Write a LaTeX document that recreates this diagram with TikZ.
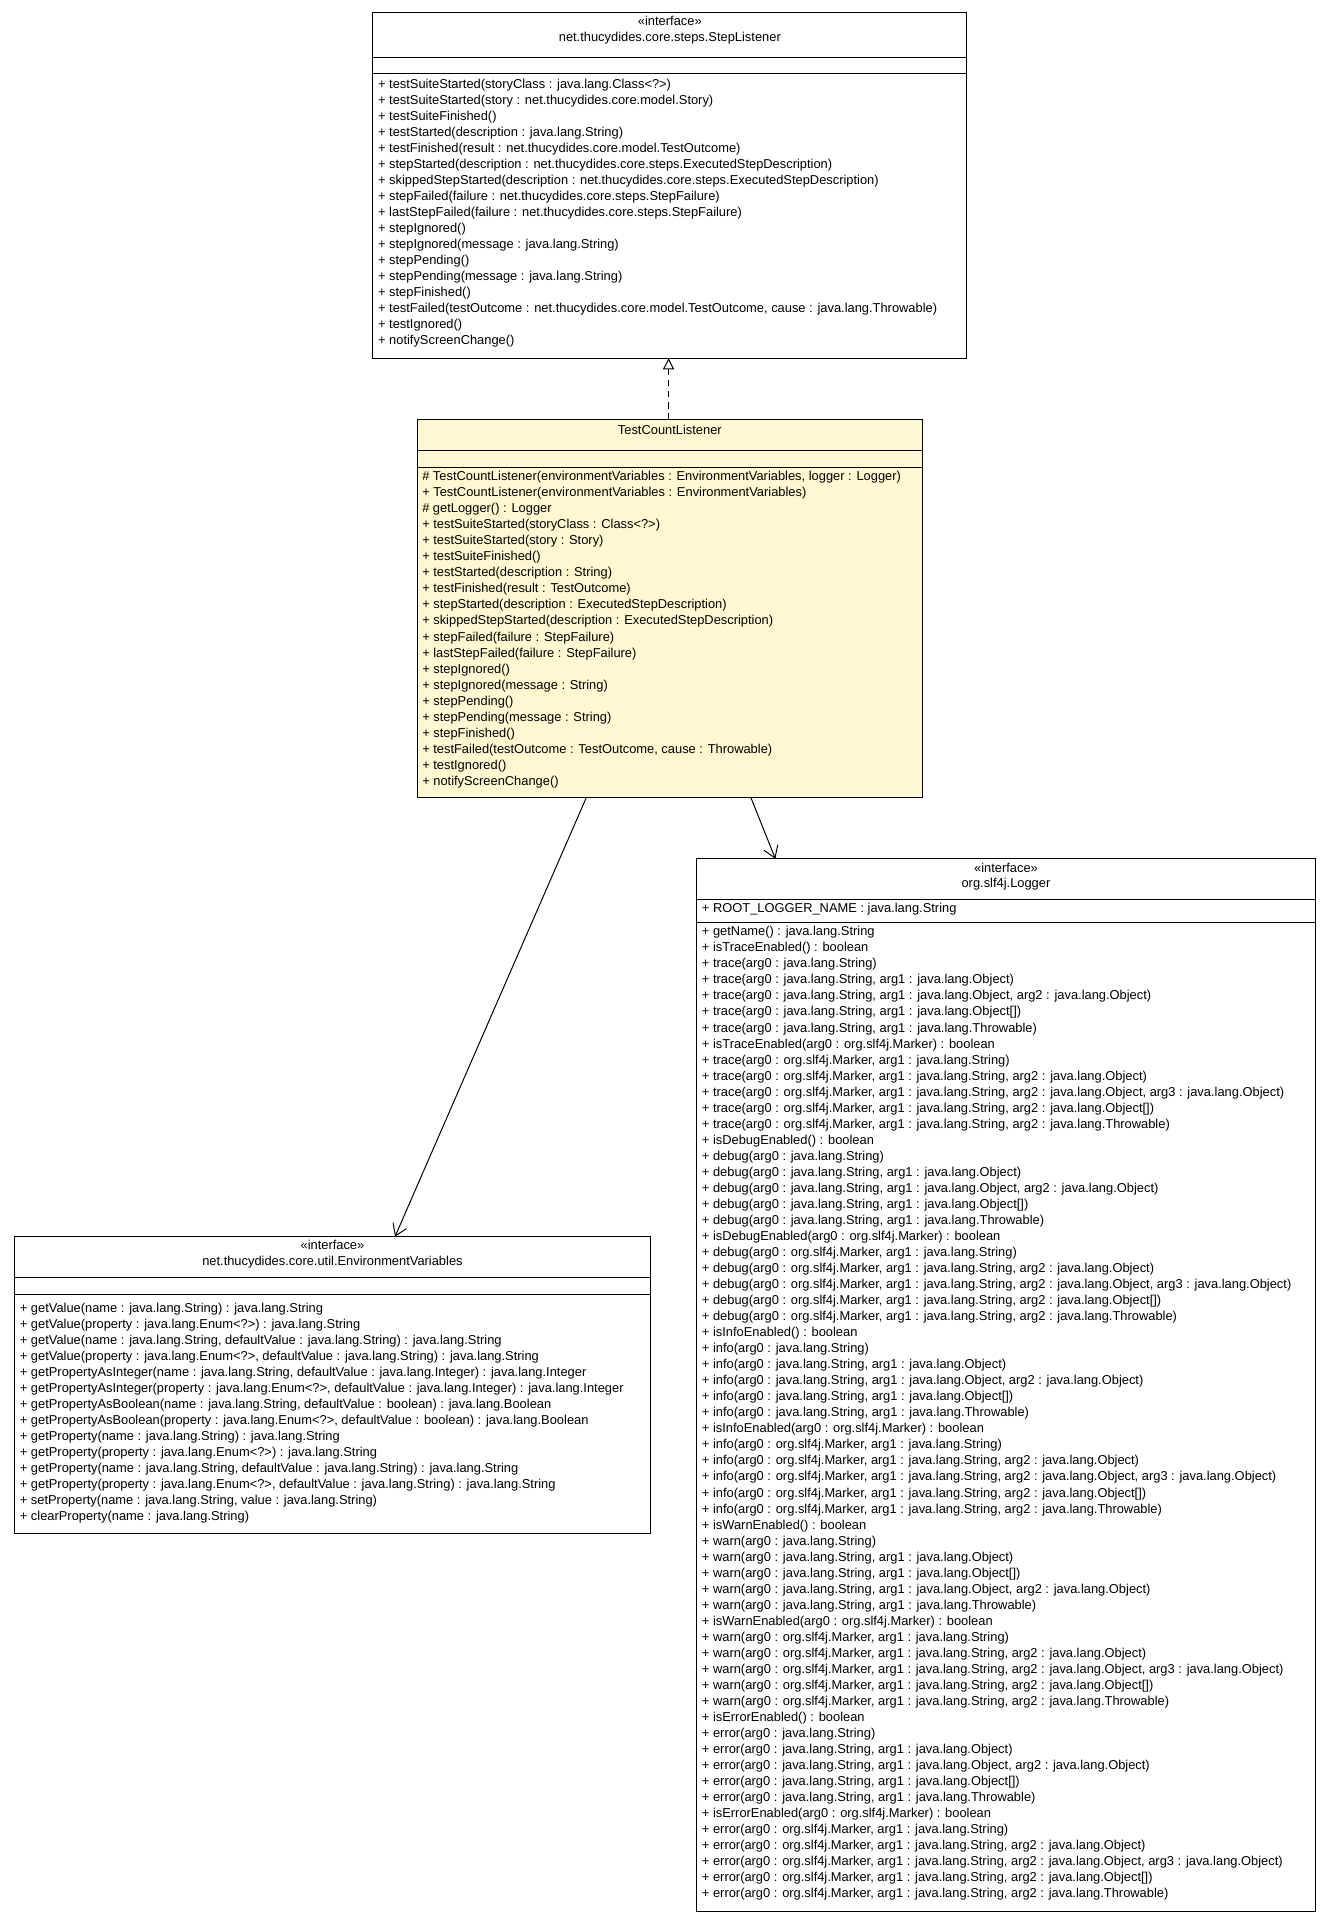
\documentclass[tikz,border=0pt]{standalone}
\usepackage{fontspec}
\setmainfont{Liberation Sans}
\usetikzlibrary{arrows.meta}
\begin{document}
\begin{tikzpicture}[x=1pt,y=-1pt,
 box/.style={draw,line width=0.8pt},
 txt/.style={anchor=north west,align=left,inner sep=0pt,font=\fontsize{10.5}{13.07}\selectfont},
 hdr/.style={anchor=north,align=center,inner sep=0pt,font=\fontsize{10.5}{13}\selectfont},
 arr/.style={line width=0.8pt,-{Straight Barb[length=9pt,width=12pt]}}]
\useasboundingbox (0,0) rectangle (1080,1561);
% StepListener
\draw[box] (304,10) rectangle (788,292);
\draw[line width=0.8pt] (304,47)--(788,47) (304,60)--(788,60);
\node[hdr] (slh) at (546,13) {«interface»\\net.thucydides.core.steps.StepListener};
\node[txt] (slm) at (308,64) {+ testSuiteStarted(storyClass : java.lang.Class<?>)\\
+ testSuiteStarted(story : net.thucydides.core.model.Story)\\
+ testSuiteFinished()\\
+ testStarted(description : java.lang.String)\\
+ testFinished(result : net.thucydides.core.model.TestOutcome)\\
+ stepStarted(description : net.thucydides.core.steps.ExecutedStepDescription)\\
+ skippedStepStarted(description : net.thucydides.core.steps.ExecutedStepDescription)\\
+ stepFailed(failure : net.thucydides.core.steps.StepFailure)\\
+ lastStepFailed(failure : net.thucydides.core.steps.StepFailure)\\
+ stepIgnored()\\
+ stepIgnored(message : java.lang.String)\\
+ stepPending()\\
+ stepPending(message : java.lang.String)\\
+ stepFinished()\\
+ testFailed(testOutcome : net.thucydides.core.model.TestOutcome, cause : java.lang.Throwable)\\
+ testIgnored()\\
+ notifyScreenChange()};
\coordinate (slb) at (545,292);
% TestCountListener
\draw[box,fill={rgb,255:red,255;green,248;blue,208}] (340,342) rectangle (752,650);
\draw[line width=0.8pt] (340,367)--(752,367) (340,381)--(752,381);
\node[hdr] (tch) at (546,346) {TestCountListener};
\node[txt] (tcm) at (344,384) {\# TestCountListener(environmentVariables : EnvironmentVariables, logger : Logger)\\
+ TestCountListener(environmentVariables : EnvironmentVariables)\\
\# getLogger() : Logger\\
+ testSuiteStarted(storyClass : Class<?>)\\
+ testSuiteStarted(story : Story)\\
+ testSuiteFinished()\\
+ testStarted(description : String)\\
+ testFinished(result : TestOutcome)\\
+ stepStarted(description : ExecutedStepDescription)\\
+ skippedStepStarted(description : ExecutedStepDescription)\\
+ stepFailed(failure : StepFailure)\\
+ lastStepFailed(failure : StepFailure)\\
+ stepIgnored()\\
+ stepIgnored(message : String)\\
+ stepPending()\\
+ stepPending(message : String)\\
+ stepFinished()\\
+ testFailed(testOutcome : TestOutcome, cause : Throwable)\\
+ testIgnored()\\
+ notifyScreenChange()};
\coordinate (tct) at (545,342);
\coordinate (tcl) at (478,650);
\coordinate (tcr) at (612,650);
% Env
\draw[box] (12,1008) rectangle (530,1250);
\draw[line width=0.8pt] (12,1041)--(530,1041) (12,1055)--(530,1055);
\node[hdr] (evh) at (271,1011) {«interface»\\net.thucydides.core.util.EnvironmentVariables};
\node[txt] (evm) at (16,1062) {+ getValue(name : java.lang.String) : java.lang.String\\
+ getValue(property : java.lang.Enum<?>) : java.lang.String\\
+ getValue(name : java.lang.String, defaultValue : java.lang.String) : java.lang.String\\
+ getValue(property : java.lang.Enum<?>, defaultValue : java.lang.String) : java.lang.String\\
+ getPropertyAsInteger(name : java.lang.String, defaultValue : java.lang.Integer) : java.lang.Integer\\
+ getPropertyAsInteger(property : java.lang.Enum<?>, defaultValue : java.lang.Integer) : java.lang.Integer\\
+ getPropertyAsBoolean(name : java.lang.String, defaultValue : boolean) : java.lang.Boolean\\
+ getPropertyAsBoolean(property : java.lang.Enum<?>, defaultValue : boolean) : java.lang.Boolean\\
+ getProperty(name : java.lang.String) : java.lang.String\\
+ getProperty(property : java.lang.Enum<?>) : java.lang.String\\
+ getProperty(name : java.lang.String, defaultValue : java.lang.String) : java.lang.String\\
+ getProperty(property : java.lang.Enum<?>, defaultValue : java.lang.String) : java.lang.String\\
+ setProperty(name : java.lang.String, value : java.lang.String)\\
+ clearProperty(name : java.lang.String)};
\coordinate (evt) at (322,1008);
% Logger
\draw[box] (568,700) rectangle (1072,1558);
\draw[line width=0.8pt] (568,733)--(1072,733) (568,752)--(1072,752);
\node[hdr] (lgh) at (820,703) {«interface»\\org.slf4j.Logger};
\node[txt] (lgf) at (572,736) {+ ROOT\_LOGGER\_NAME : java.lang.String};
\node[txt] (lgm) at (572,755) {+ getName() : java.lang.String\\
+ isTraceEnabled() : boolean\\
+ trace(arg0 : java.lang.String)\\
+ trace(arg0 : java.lang.String, arg1 : java.lang.Object)\\
+ trace(arg0 : java.lang.String, arg1 : java.lang.Object, arg2 : java.lang.Object)\\
+ trace(arg0 : java.lang.String, arg1 : java.lang.Object[])\\
+ trace(arg0 : java.lang.String, arg1 : java.lang.Throwable)\\
+ isTraceEnabled(arg0 : org.slf4j.Marker) : boolean\\
+ trace(arg0 : org.slf4j.Marker, arg1 : java.lang.String)\\
+ trace(arg0 : org.slf4j.Marker, arg1 : java.lang.String, arg2 : java.lang.Object)\\
+ trace(arg0 : org.slf4j.Marker, arg1 : java.lang.String, arg2 : java.lang.Object, arg3 : java.lang.Object)\\
+ trace(arg0 : org.slf4j.Marker, arg1 : java.lang.String, arg2 : java.lang.Object[])\\
+ trace(arg0 : org.slf4j.Marker, arg1 : java.lang.String, arg2 : java.lang.Throwable)\\
+ isDebugEnabled() : boolean\\
+ debug(arg0 : java.lang.String)\\
+ debug(arg0 : java.lang.String, arg1 : java.lang.Object)\\
+ debug(arg0 : java.lang.String, arg1 : java.lang.Object, arg2 : java.lang.Object)\\
+ debug(arg0 : java.lang.String, arg1 : java.lang.Object[])\\
+ debug(arg0 : java.lang.String, arg1 : java.lang.Throwable)\\
+ isDebugEnabled(arg0 : org.slf4j.Marker) : boolean\\
+ debug(arg0 : org.slf4j.Marker, arg1 : java.lang.String)\\
+ debug(arg0 : org.slf4j.Marker, arg1 : java.lang.String, arg2 : java.lang.Object)\\
+ debug(arg0 : org.slf4j.Marker, arg1 : java.lang.String, arg2 : java.lang.Object, arg3 : java.lang.Object)\\
+ debug(arg0 : org.slf4j.Marker, arg1 : java.lang.String, arg2 : java.lang.Object[])\\
+ debug(arg0 : org.slf4j.Marker, arg1 : java.lang.String, arg2 : java.lang.Throwable)\\
+ isInfoEnabled() : boolean\\
+ info(arg0 : java.lang.String)\\
+ info(arg0 : java.lang.String, arg1 : java.lang.Object)\\
+ info(arg0 : java.lang.String, arg1 : java.lang.Object, arg2 : java.lang.Object)\\
+ info(arg0 : java.lang.String, arg1 : java.lang.Object[])\\
+ info(arg0 : java.lang.String, arg1 : java.lang.Throwable)\\
+ isInfoEnabled(arg0 : org.slf4j.Marker) : boolean\\
+ info(arg0 : org.slf4j.Marker, arg1 : java.lang.String)\\
+ info(arg0 : org.slf4j.Marker, arg1 : java.lang.String, arg2 : java.lang.Object)\\
+ info(arg0 : org.slf4j.Marker, arg1 : java.lang.String, arg2 : java.lang.Object, arg3 : java.lang.Object)\\
+ info(arg0 : org.slf4j.Marker, arg1 : java.lang.String, arg2 : java.lang.Object[])\\
+ info(arg0 : org.slf4j.Marker, arg1 : java.lang.String, arg2 : java.lang.Throwable)\\
+ isWarnEnabled() : boolean\\
+ warn(arg0 : java.lang.String)\\
+ warn(arg0 : java.lang.String, arg1 : java.lang.Object)\\
+ warn(arg0 : java.lang.String, arg1 : java.lang.Object[])\\
+ warn(arg0 : java.lang.String, arg1 : java.lang.Object, arg2 : java.lang.Object)\\
+ warn(arg0 : java.lang.String, arg1 : java.lang.Throwable)\\
+ isWarnEnabled(arg0 : org.slf4j.Marker) : boolean\\
+ warn(arg0 : org.slf4j.Marker, arg1 : java.lang.String)\\
+ warn(arg0 : org.slf4j.Marker, arg1 : java.lang.String, arg2 : java.lang.Object)\\
+ warn(arg0 : org.slf4j.Marker, arg1 : java.lang.String, arg2 : java.lang.Object, arg3 : java.lang.Object)\\
+ warn(arg0 : org.slf4j.Marker, arg1 : java.lang.String, arg2 : java.lang.Object[])\\
+ warn(arg0 : org.slf4j.Marker, arg1 : java.lang.String, arg2 : java.lang.Throwable)\\
+ isErrorEnabled() : boolean\\
+ error(arg0 : java.lang.String)\\
+ error(arg0 : java.lang.String, arg1 : java.lang.Object)\\
+ error(arg0 : java.lang.String, arg1 : java.lang.Object, arg2 : java.lang.Object)\\
+ error(arg0 : java.lang.String, arg1 : java.lang.Object[])\\
+ error(arg0 : java.lang.String, arg1 : java.lang.Throwable)\\
+ isErrorEnabled(arg0 : org.slf4j.Marker) : boolean\\
+ error(arg0 : org.slf4j.Marker, arg1 : java.lang.String)\\
+ error(arg0 : org.slf4j.Marker, arg1 : java.lang.String, arg2 : java.lang.Object)\\
+ error(arg0 : org.slf4j.Marker, arg1 : java.lang.String, arg2 : java.lang.Object, arg3 : java.lang.Object)\\
+ error(arg0 : org.slf4j.Marker, arg1 : java.lang.String, arg2 : java.lang.Object[])\\
+ error(arg0 : org.slf4j.Marker, arg1 : java.lang.String, arg2 : java.lang.Throwable)};
\coordinate (lgt) at (632,700);
% connectors
\draw[line width=0.8pt,dash pattern=on 5pt off 4pt,-{Triangle[open,length=9pt,width=9pt]}] (tct)--(slb);
\draw[arr] (tcl)--(evt);
\draw[arr] (tcr)--(lgt);
\end{tikzpicture}
\end{document}
